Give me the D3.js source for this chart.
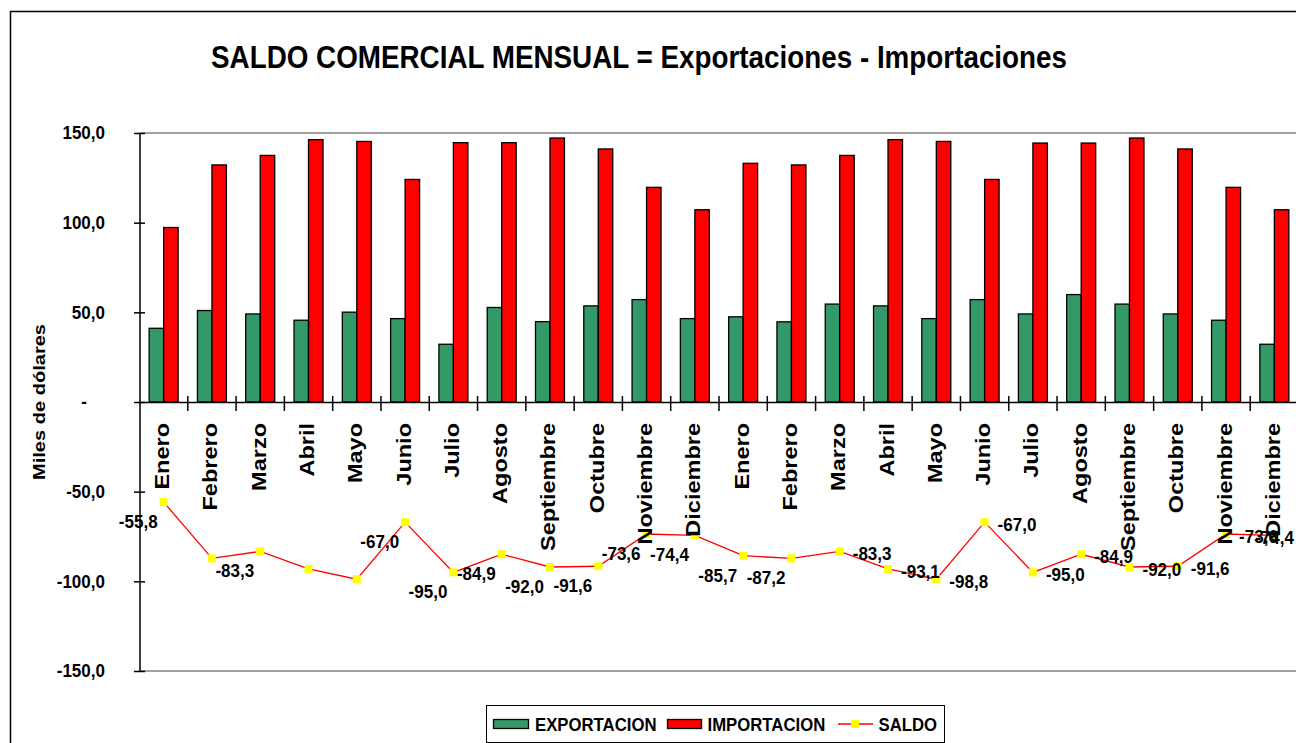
<!DOCTYPE html>
<html lang="es">
<head>
<meta charset="UTF-8">
<title>Saldo comercial mensual</title>
<script src="https://cdn.jsdelivr.net/npm/d3@7/dist/d3.min.js"></script>
<style>
  body { margin: 0; background: #fff; }
  svg { display: block; font-family: "Liberation Sans", Arial, sans-serif; font-weight: bold; }
</style>
</head>
<body>
<div id="grafico"></div>
<script>
// datos (miles de dolares)
const meses = ["Enero", "Febrero", "Marzo", "Abril", "Mayo", "Junio", "Julio", "Agosto",
    "Septiembre", "Octubre", "Noviembre", "Diciembre",
    "Enero", "Febrero", "Marzo", "Abril", "Mayo", "Junio", "Julio", "Agosto",
    "Septiembre", "Octubre", "Noviembre", "Diciembre"];
const exportaciones = [41.1, 51.0, 49.1, 45.6, 50.1, 46.5, 32.2, 52.7, 44.8, 53.6, 57.1, 46.5,
    47.5, 44.7, 54.6, 53.6, 46.5, 57.1, 49.1, 59.9, 54.6, 49.1, 45.6, 32.2];
const importaciones = [97.3, 132.2, 137.5, 146.3, 145.3, 124.1, 144.6, 144.6, 147.2, 141.1, 119.7, 107.2,
    133.1, 132.2, 137.5, 146.3, 145.3, 124.1, 144.4, 144.4, 147.2, 141.1, 119.7, 107.2];
const saldo = [-55.8, -87.2, -83.3, -93.1, -98.8, -67.0, -95.0, -84.9, -92.0, -91.6, -73.6, -74.4,
    -85.7, -87.2, -83.3, -93.1, -98.8, -67.0, -95.0, -84.9, -92.0, -91.6, -73.6, -74.4];
const ticksY = [150, 100, 50, 0, -50, -100, -150];
const sinEtiqueta = [1, 3, 4];   // puntos sin rotulo en el original

const ancho = 1296, alto = 743;
const izq = 139.5, der = 1298.5, arriba = 133, abajo = 671;

const fmt = d3.formatLocale({decimal: ",", thousands: ".", grouping: [3], currency: ["$", ""], minus: "-"}).format(".1f");

// el texto de excel sale un poco mas alto y estrecho
function estrechar(sel, f) {
    sel.each(function () {
        const w = this.getComputedTextLength();
        d3.select(this).attr("textLength", w * f).attr("lengthAdjust", "spacingAndGlyphs");
    });
}

const svg = d3.select("#grafico").append("svg")
    .attr("width", ancho)
    .attr("height", alto);

// marco del grafico
svg.append("rect")
    .attr("x", 10.5).attr("y", 11.5)
    .attr("width", 1400).attr("height", 800)
    .attr("fill", "white")
    .attr("stroke", "black")
    .attr("stroke-width", 1.5);

// titulo
svg.append("text")
    .attr("x", 639).attr("y", 68)
    .attr("text-anchor", "middle")
    .attr("textLength", 856)
    .attr("lengthAdjust", "spacingAndGlyphs")
    .style("font-size", "32px")
    .text("SALDO COMERCIAL MENSUAL = Exportaciones - Importaciones");

// escalas
const x = d3.scaleBand()
    .domain(d3.range(meses.length))
    .range([izq, der])
    .paddingInner(0.4)
    .paddingOuter(0.2);
const xSerie = d3.scaleBand()
    .domain(["exp", "imp"])
    .range([0, x.bandwidth()]);
const y = d3.scaleLinear()
    .domain([-150, 150])
    .range([abajo, arriba]);
const cx = i => x(i) + x.bandwidth() / 2;

// bordes grises del area de trazado
svg.append("g").selectAll("line")
    .data([150, -150])
    .join("line")
    .attr("x1", izq).attr("x2", der)
    .attr("y1", d => y(d)).attr("y2", d => y(d))
    .attr("stroke", "#808080")
    .attr("stroke-width", 1.5);

// barras
const grupos = svg.append("g").selectAll("g")
    .data(meses.map((m, i) => ({i: i, exp: exportaciones[i], imp: importaciones[i]})))
    .join("g")
    .attr("transform", d => `translate(${x(d.i)},0)`);
grupos.selectAll("rect")
    .data(d => [{k: "exp", v: d.exp}, {k: "imp", v: d.imp}])
    .join("rect")
    .attr("x", d => xSerie(d.k))
    .attr("y", d => y(d.v))
    .attr("width", xSerie.bandwidth())
    .attr("height", d => y(0) - y(d.v))
    .attr("fill", d => d.k === "exp" ? "#339966" : "#ff0000")
    .attr("stroke", "black")
    .attr("stroke-width", 1.3);

// eje Y
const ejeY = svg.append("g")
    .attr("transform", `translate(${izq},0)`)
    .call(d3.axisLeft(y).tickValues(ticksY).tickSize(0).tickPadding(34.5)
        .tickFormat(d => d === 0 ? "-" : fmt(d)))
    .attr("font-family", null)
    .attr("font-size", 18.5);
ejeY.select(".domain").attr("stroke", "black").attr("stroke-width", 1.5);
ejeY.selectAll(".tick").append("line")
    .attr("x1", -5.5).attr("x2", 5.5)
    .attr("stroke", "black").attr("stroke-width", 1.5);
ejeY.selectAll(".tick text").filter(d => d === 0).attr("dx", -18);
estrechar(ejeY.selectAll(".tick text"), 0.92);

svg.append("text")
    .attr("transform", "translate(45,402) rotate(-90) scale(1.18,1)")
    .attr("text-anchor", "middle")
    .style("font-size", "17px")
    .text("Miles de dólares");

// linea del saldo
svg.append("path").datum(saldo)
    .attr("fill", "none")
    .attr("stroke", "#ff0000")
    .attr("stroke-width", 1.3)
    .attr("d", d3.line().x((d, i) => cx(i)).y(d => y(d)));
svg.append("g").selectAll("rect")
    .data(saldo)
    .join("rect")
    .attr("x", (d, i) => cx(i) - 4)
    .attr("y", d => y(d) - 4)
    .attr("width", 8).attr("height", 8)
    .attr("fill", "#ffff00");

// rotulos del saldo (el ultimo se mete dentro del grafico, como en excel)
const rotulos = svg.append("g").selectAll("text")
    .data(saldo.map((v, i) => ({v: v, i: i})).filter(d => !sinEtiqueta.includes(d.i)))
    .join("text")
    .attr("x", d => d.i < 14 ? cx(d.i) - 6 : cx(d.i) + 13)
    .attr("y", d => y(d.v) + (d.i < 14 ? 26 : 9))
    .attr("text-anchor", d => d.i < 14 ? "end" : "start")
    .style("font-size", "18.5px")
    .text(d => fmt(d.v));
estrechar(rotulos, 0.92);
rotulos.filter(d => d.i >= 14).each(function (d) {
    const w = +d3.select(this).attr("textLength");
    if (cx(d.i) + 13 + w > ancho - 2) d3.select(this).attr("x", ancho - 2 - w);
});

// eje X con los meses
const ejeX = svg.append("g")
    .attr("transform", `translate(0,${y(0)})`)
    .call(d3.axisBottom(x).tickSize(0).tickFormat(i => meses[i]))
    .attr("font-family", null)
    .attr("font-size", 21);
ejeX.select(".domain").attr("stroke", "black").attr("stroke-width", 1.5);
ejeX.selectAll(".tick text")
    .attr("y", 0).attr("dy", 0)
    .attr("text-anchor", "end")
    .attr("transform", "translate(5.5,21) rotate(-90) scale(1.12,1)");
ejeX.append("g").selectAll("line")
    .data(d3.range(meses.length))
    .join("line")
    .attr("x1", i => cx(i) + x.step() / 2)
    .attr("x2", i => cx(i) + x.step() / 2)
    .attr("y1", -6).attr("y2", 9)
    .attr("stroke", "black").attr("stroke-width", 1.5);

// leyenda
const ley = svg.append("g");
ley.append("rect")
    .attr("x", 486.5).attr("y", 705.5)
    .attr("width", 458).attr("height", 37)
    .attr("fill", "white").attr("stroke", "black").attr("stroke-width", 1);
ley.append("rect")
    .attr("x", 493.5).attr("y", 719.5).attr("width", 35).attr("height", 9)
    .attr("fill", "#339966").attr("stroke", "black").attr("stroke-width", 1.3);
ley.append("rect")
    .attr("x", 667.5).attr("y", 719.5).attr("width", 34).attr("height", 9)
    .attr("fill", "#ff0000").attr("stroke", "black").attr("stroke-width", 1.3);
ley.append("line")
    .attr("x1", 838).attr("x2", 873).attr("y1", 724).attr("y2", 724)
    .attr("stroke", "#ff0000").attr("stroke-width", 1.3);
ley.append("rect")
    .attr("x", 851).attr("y", 720).attr("width", 8).attr("height", 8)
    .attr("fill", "#ffff00");
const textosLey = ley.selectAll("text.ley")
    .data([["EXPORTACION", 535], ["IMPORTACION", 707.5], ["SALDO", 878.5]])
    .join("text")
    .attr("class", "ley")
    .attr("x", d => d[1]).attr("y", 730.5)
    .style("font-size", "18px")
    .text(d => d[0]);
estrechar(textosLey, 0.93);
</script>
</body>
</html>
